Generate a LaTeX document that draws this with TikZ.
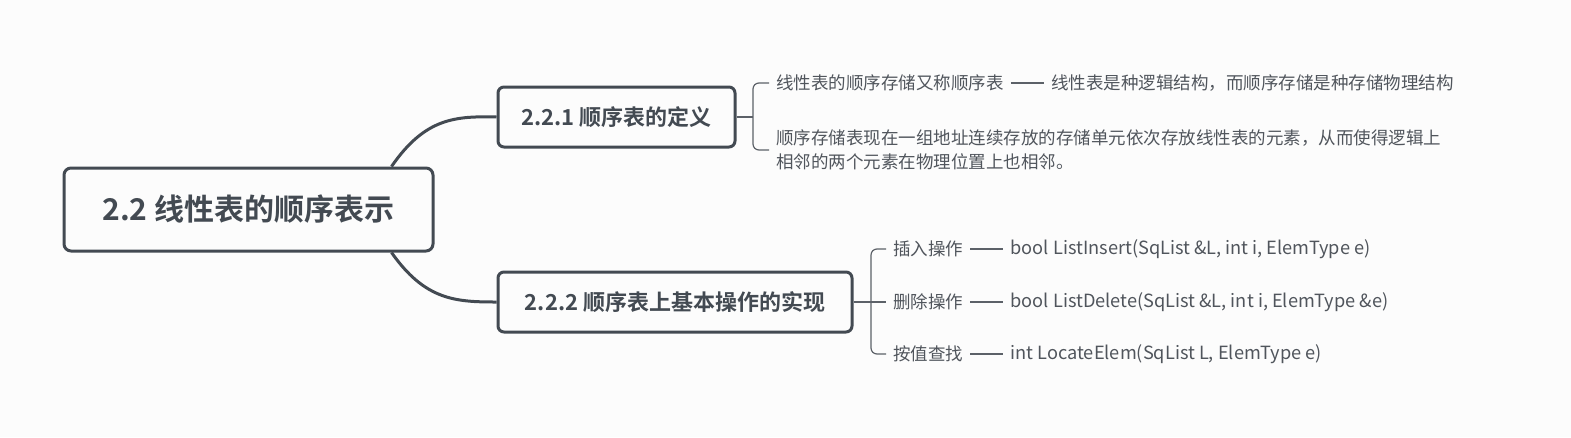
\documentclass[tikz,border=0pt]{standalone}
\usepackage{fontspec}
\setmainfont{Noto Sans CJK SC}[BoldFont={Noto Sans CJK SC Bold}]
\usetikzlibrary{positioning}
\definecolor{kastengrau}{HTML}{434A52}
\definecolor{blattgrau}{HTML}{50555C}
\definecolor{liniengrau}{HTML}{5C6168}
\definecolor{papier}{HTML}{FCFCFC}
\tikzset{
%Define style for the root box
    wurzel/.style={
           rectangle,
           rounded corners=7pt,
           draw=kastengrau, line width=3pt,
           fill=papier,
           minimum width=369pt,
           minimum height=83pt,
           text=kastengrau,
           font=\fontsize{30}{36}\selectfont\bfseries},
%Define style for the section boxes
    kasten/.style={
           rectangle,
           rounded corners=6pt,
           draw=kastengrau, line width=3pt,
           fill=papier,
           minimum height=60pt,
           text=kastengrau,
           font=\fontsize{22}{26}\selectfont\bfseries},
%Define style for the plain texts
    blatt/.style={
           inner xsep=7pt,
           inner ysep=2pt,
           text=blattgrau,
           align=left,
           font=\fontsize{17.5}{24}\selectfont},
%Define style for the function texts
    code/.style={
           blatt,
           font=\fontsize{18.2}{24}\selectfont},
% Define line styles
    ast/.style={
           draw=kastengrau,
           line width=3pt},
    zweig/.style={
           draw=liniengrau,
           line width=1.2pt,
           rounded corners=6pt}
}
\begin{document}
\begin{tikzpicture}[x=1pt, y=-1pt, node distance=33pt]
 \useasboundingbox[fill=papier] (0,0) rectangle (1571,437);
 % main branches
 \node[wurzel] (wurzel) at (248.5,209.5) {2.2 线性表的顺序表示};
 \node[kasten, minimum width=237pt] (def) at (616.5,117) {2.2.1 顺序表的定义};
 \node[kasten, minimum width=354pt] (ops) at (675,302) {2.2.2 顺序表上基本操作的实现};
 \draw[ast] ([xshift=-43pt]wurzel.north east) .. controls (425,118) and (455,116) .. (def.west);
 \draw[ast] ([xshift=-43pt]wurzel.south east) .. controls (425,300) and (455,302) .. (ops.west);
 % definition texts
 \node[blatt, anchor=west] (def1) at (769,83) {线性表的顺序存储又称顺序表};
 \node[blatt, right=of def1] (def1b) {线性表是种逻辑结构，而顺序存储是种存储物理结构};
 \node[blatt, anchor=west] (def2) at (769,150) {顺序存储表现在一组地址连续存放的存储单元依次存放线性表的元素，从而使得逻辑上\\相邻的两个元素在物理位置上也相邻。};
 \coordinate (k1) at (753,117);
 \draw[zweig] (def.east) -- (k1);
 \draw[zweig] (def1.west) -| (k1) |- (def2.west);
 \draw[zweig] (def1) -- (def1b);
 % operation texts
 \node[blatt, anchor=west] (op1) at (886,249) {插入操作};
 \node[blatt, anchor=west] (op2) at (886,302) {删除操作};
 \node[blatt, anchor=west] (op3) at (886,354) {按值查找};
 \node[code, right=of op1] (f1) {bool ListInsert(SqList \&L, int i, ElemType e)};
 \node[code, right=of op2] (f2) {bool ListDelete(SqList \&L, int i, ElemType \&e)};
 \node[code, right=of op3] (f3) {int LocateElem(SqList L, ElemType e)};
 \coordinate (k2) at (871,302);
 \draw[zweig] (ops.east) -- (op2.west);
 \draw[zweig] (op1.west) -| (k2) |- (op3.west);
 \foreach \i in {1,2,3}
   \draw[zweig] (op\i) -- (f\i);
\end{tikzpicture}
\end{document}
